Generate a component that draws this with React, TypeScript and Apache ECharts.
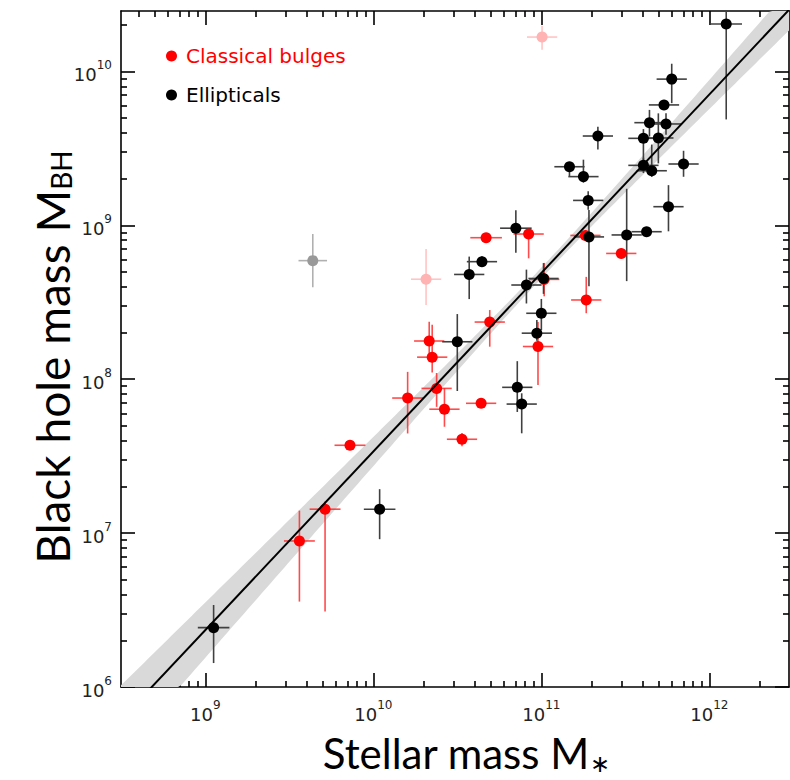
import React, { useEffect, useRef } from "react";
import * as echarts from "echarts";

// ---- axis ranges (log10 units) ----
const X_MIN = 8.498;
const X_MAX = 12.474;
const Y_MIN = 6;
const Y_MAX = 10.392;
const X_LABEL_EXPONENTS = [9, 10, 11, 12];
const Y_LABEL_EXPONENTS = [6, 7, 8, 9, 10];

// ---- fit (Kormendy & Ho 2013) ----
const FIT_NORM = 8.69; // log M_BH at M* = 1e11
const FIT_SLOPE = 1.16;
const FIT_PIVOT = 11;
const BAND_CORE = 0.035; // dex
const BAND_SLOPE_ERR = 0.088; // dex per dex from pivot

// ---- Ellipticals (M*, M_BH in solar masses; errors in dex) ----
const ellMass = [1.26e12, 5.97e11, 5.37e11, 4.4e11, 5.52e11, 2.17e11, 4.05e11, 4.97e11, 1.47e11, 4.05e11, 7.02e11, 1.78e11, 4.54e11, 1.9e11, 5.71e11, 3.22e11, 4.23e11, 1.92e11, 7.05e10, 4.43e10, 3.72e10, 8.15e10, 1.03e11, 1.0e11, 9.4e10, 3.16e10, 7.19e10, 7.64e10, 1.09e10, 1.12e9];
const ellBH = [2.03e10, 8.9e9, 6.05e9, 4.64e9, 4.55e9, 3.8e9, 3.67e9, 3.69e9, 2.4e9, 2.45e9, 2.5e9, 2.07e9, 2.26e9, 1.45e9, 1.32e9, 8.65e8, 9.08e8, 8.4e8, 9.57e8, 5.8e8, 4.79e8, 4.09e8, 4.51e8, 2.68e8, 1.99e8, 1.75e8, 8.85e7, 6.89e7, 1.43e7, 2.43e6];
const ellMassErr = [0.094, 0.09, 0.09, 0.09, 0.09, 0.09, 0.09, 0.09, 0.09, 0.09, 0.09, 0.09, 0.09, 0.09, 0.09, 0.09, 0.09, 0.09, 0.094, 0.09, 0.09, 0.09, 0.09, 0.09, 0.09, 0.09, 0.09, 0.09, 0.094, 0.094];
const ellBHErrLo = [0.62, 0.156, 0.03, 0.09, 0.07, 0.087, 0.16, 0.165, 0.06, 0.05, 0.083, 0.04, 0.04, 0.06, 0.16, 0.3, 0.03, 0.32, 0.16, 0.035, 0.16, 0.12, 0.1, 0.11, 0.05, 0.32, 0.16, 0.19, 0.195, 0.23];
const ellBHErrHi = [0.09, 0.1, 0.03, 0.083, 0.07, 0.06, 0.06, 0.16, 0.03, 0.05, 0.086, 0.11, 0.17, 0.06, 0.14, 0.3, 0.03, 0.175, 0.117, 0.035, 0.116, 0.1, 0.1, 0.093, 0.086, 0.18, 0.17, 0.07, 0.13, 0.147];

// ---- Classical bulges ----
const bulMass = [4.69e10, 8.4e10, 1.83e11, 2.99e11, 1.04e11, 1.85e11, 4.93e10, 9.55e10, 2.15e10, 2.24e10, 2.38e10, 2.65e10, 1.6e10, 4.38e10, 3.37e10, 7.26e9, 5.16e9, 3.63e9];
const bulBH = [8.3e8, 8.77e8, 8.59e8, 6.56e8, 4.45e8, 3.27e8, 2.35e8, 1.63e8, 1.77e8, 1.39e8, 8.71e7, 6.38e7, 7.54e7, 6.97e7, 4.07e7, 3.72e7, 1.43e7, 8.89e6];
const bulMassErr = [0.094, 0.09, 0.09, 0.09, 0.09, 0.09, 0.09, 0.09, 0.09, 0.09, 0.09, 0.09, 0.092, 0.09, 0.09, 0.092, 0.092, 0.092];
const bulBHErrLo = [0.03, 0.158, 0.03, 0.03, 0.11, 0.086, 0.16, 0.25, 0.08, 0.1, 0.12, 0.114, 0.23, 0.03, 0.045, 0.02, 0.665, 0.394];
const bulBHErrHi = [0.03, 0.03, 0.03, 0.03, 0.107, 0.15, 0.078, 0.16, 0.125, 0.21, 0.1, 0.136, 0.17, 0.03, 0.04, 0.02, 0.05, 0.197];

// ---- Excluded (faded) objects ----
const pinkMass = [1.01e11, 2.06e10];
const pinkBH = [1.67e10, 4.46e8];
const pinkMassErr = [0.09, 0.09];
const pinkBHErrLo = [0.083, 0.167];
const pinkBHErrHi = [0.073, 0.197];

const grayMass = [4.36e9];
const grayBH = [5.89e8];
const grayMassErr = [0.085];
const grayBHErrLo = [0.173];
const grayBHErrHi = [0.173];

const RED = "#ff0000";
const RED_BAR = "rgba(255,30,30,0.8)";
const BLACK = "#000000";
const BLACK_BAR = "#404040";
const PINK = "#ffb3b3";
const PINK_BAR = "#ffc4c4";
const GRAY = "#999999";
const GRAY_BAR = "#b0b0b0";

const TICK_FONT = "DejaVu Sans";
const TITLE_FONT = "Lato";

function build(mass: number[], bh: number[], xe: number[], ylo: number[], yhi: number[]) {
  return mass.map((m, i) => [Math.log10(m), Math.log10(bh[i]), xe[i], ylo[i], yhi[i]]);
}

function minorTicks(lo: number, hi: number) {
  const out: number[] = [];
  for (let n = Math.floor(lo); n <= Math.ceil(hi); n++) {
    for (let k = 2; k <= 9; k++) {
      const v = n + Math.log10(k);
      if (v > lo && v < hi) out.push(v);
    }
  }
  return out;
}

function errorBarSeries(name: string, data: number[][], color: string) {
  return {
    type: "custom",
    name,
    xAxisIndex: 0,
    yAxisIndex: 0,
    clip: true,
    silent: true,
    encode: { x: 0, y: 1 },
    data,
    renderItem: (_p: any, api: any) => {
      const x = api.value(0);
      const y = api.value(1);
      const xe = api.value(2);
      const lo = api.value(3);
      const hi = api.value(4);
      const l = api.coord([x - xe, y]);
      const r = api.coord([x + xe, y]);
      const t = api.coord([x, y + hi]);
      const b = api.coord([x, y - lo]);
      return {
        type: "group",
        children: [
          { type: "line", shape: { x1: l[0], y1: l[1], x2: r[0], y2: r[1] }, style: { stroke: color, lineWidth: 1.6 } },
          { type: "line", shape: { x1: t[0], y1: t[1], x2: b[0], y2: b[1] }, style: { stroke: color, lineWidth: 1.6 } },
        ],
      };
    },
  };
}

function dotSeries(name: string, data: number[][], color: string) {
  return {
    type: "scatter",
    name,
    xAxisIndex: 0,
    yAxisIndex: 0,
    symbol: "circle",
    symbolSize: 11,
    itemStyle: { color, opacity: 1 },
    silent: true,
    data: data.map((d) => [d[0], d[1]]),
  };
}

const fmt = (v: number) => `{b|10}{s|${Math.round(v)}}`;
const labelRich = {
  b: { fontFamily: TICK_FONT, fontSize: 18, color: "#222", verticalAlign: "bottom", lineHeight: 24 },
  s: { fontFamily: TICK_FONT, fontSize: 12, color: "#222", verticalAlign: "top", lineHeight: 15 },
};

export default function App() {
  const ref = useRef<HTMLDivElement>(null);
  useEffect(() => {
    document.body.style.margin = "0";
    if (!ref.current) return;
    const chart = echarts.init(ref.current, undefined, { renderer: "svg" });

    const ell = build(ellMass, ellBH, ellMassErr, ellBHErrLo, ellBHErrHi);
    const bul = build(bulMass, bulBH, bulMassErr, bulBHErrLo, bulBHErrHi);
    const pink = build(pinkMass, pinkBH, pinkMassErr, pinkBHErrLo, pinkBHErrHi);
    const gray = build(grayMass, grayBH, grayMassErr, grayBHErrLo, grayBHErrHi);

    const fit = (x: number) => FIT_NORM + FIT_SLOPE * (x - FIT_PIVOT);
    const halfWidth = (x: number) => Math.sqrt(BAND_CORE * BAND_CORE + Math.pow(BAND_SLOPE_ERR * (x - FIT_PIVOT), 2));

    const xMinor = minorTicks(X_MIN, X_MAX);
    const yMinor = minorTicks(Y_MIN, Y_MAX);

    const axisLineStyle = { color: "#000", width: 1.6 };
    const baseX = { type: "value", min: X_MIN, max: X_MAX, splitLine: { show: false } };
    const baseY = { type: "value", min: Y_MIN, max: Y_MAX, splitLine: { show: false } };

    const option: any = {
      animation: false,
      backgroundColor: "#ffffff",
      grid: { left: 121, top: 11, width: 668, height: 676, containLabel: false },
      xAxis: [
        {
          ...baseX,
          position: "bottom",
          axisLine: { show: true, onZero: false, lineStyle: axisLineStyle },
          axisTick: { show: true, inside: true, length: 14, customValues: X_LABEL_EXPONENTS, lineStyle: axisLineStyle },
          axisLabel: { show: true, customValues: X_LABEL_EXPONENTS, formatter: fmt, rich: labelRich, margin: 12 },
        },
        {
          ...baseX,
          position: "bottom",
          axisLine: { show: false, onZero: false },
          axisTick: { show: true, inside: true, length: 6, customValues: xMinor, lineStyle: axisLineStyle },
          axisLabel: { show: false },
        },
        {
          ...baseX,
          position: "top",
          axisLine: { show: true, onZero: false, lineStyle: axisLineStyle },
          axisTick: { show: true, inside: true, length: 14, customValues: X_LABEL_EXPONENTS, lineStyle: axisLineStyle },
          axisLabel: { show: false },
        },
        {
          ...baseX,
          position: "top",
          axisLine: { show: false, onZero: false },
          axisTick: { show: true, inside: true, length: 6, customValues: xMinor, lineStyle: axisLineStyle },
          axisLabel: { show: false },
        },
      ],
      yAxis: [
        {
          ...baseY,
          position: "left",
          axisLine: { show: true, onZero: false, lineStyle: axisLineStyle },
          axisTick: { show: true, inside: true, length: 14, customValues: Y_LABEL_EXPONENTS, lineStyle: axisLineStyle },
          axisLabel: { show: true, customValues: Y_LABEL_EXPONENTS, formatter: fmt, rich: labelRich, margin: 9 },
        },
        {
          ...baseY,
          position: "left",
          axisLine: { show: false, onZero: false },
          axisTick: { show: true, inside: true, length: 6, customValues: yMinor, lineStyle: axisLineStyle },
          axisLabel: { show: false },
        },
        {
          ...baseY,
          position: "right",
          axisLine: { show: true, onZero: false, lineStyle: axisLineStyle },
          axisTick: { show: true, inside: true, length: 14, customValues: Y_LABEL_EXPONENTS, lineStyle: axisLineStyle },
          axisLabel: { show: false },
        },
        {
          ...baseY,
          position: "right",
          axisLine: { show: false, onZero: false },
          axisTick: { show: true, inside: true, length: 6, customValues: yMinor, lineStyle: axisLineStyle },
          axisLabel: { show: false },
        },
      ],
      legend: {
        orient: "vertical",
        left: 161,
        top: 41,
        itemGap: 19,
        itemWidth: 11,
        itemHeight: 11,
        icon: "circle",
        selectedMode: false,
        data: [
          { name: "Classical bulges", textStyle: { color: RED } },
          { name: "Ellipticals", textStyle: { color: BLACK } },
        ],
        textStyle: { fontFamily: TICK_FONT, fontSize: 20, padding: [0, 0, 0, 4] },
      },
      graphic: [
        {
          type: "text",
          x: 466,
          y: 754,
          style: {
            text: "{m|Stellar mass M}{s|∗}",
            textAlign: "center",
            textVerticalAlign: "middle",
            rich: {
              m: { fontFamily: TITLE_FONT, fontSize: 42, fill: "#000", verticalAlign: "bottom", lineHeight: 40 },
              s: { fontFamily: TITLE_FONT, fontSize: 24, fill: "#000", verticalAlign: "bottom", lineHeight: 30 },
            },
          },
        },
        {
          type: "text",
          x: 50,
          y: 357,
          rotation: Math.PI / 2,
          style: {
            text: "{m|Black hole mass M}{s|BH}",
            textAlign: "center",
            textVerticalAlign: "middle",
            rich: {
              m: { fontFamily: TITLE_FONT, fontSize: 46, fill: "#000", verticalAlign: "bottom", lineHeight: 50 },
              s: { fontFamily: TITLE_FONT, fontSize: 28, fill: "#000", verticalAlign: "bottom", lineHeight: 44 },
            },
          },
        },
      ],
      series: [
        {
          type: "custom",
          name: "scatter band",
          xAxisIndex: 0,
          yAxisIndex: 0,
          silent: true,
          data: [[X_MIN, Y_MIN]],
          encode: { x: 0, y: 1 },
          renderItem: (_p: any, api: any) => {
            const upper: number[][] = [];
            const lower: number[][] = [];
            const steps = 200;
            for (let i = 0; i <= steps; i++) {
              const x = X_MIN + ((X_MAX - X_MIN) * i) / steps;
              const f = fit(x);
              const w = halfWidth(x);
              const hi = Math.min(Math.max(f + w, Y_MIN), Y_MAX);
              const lo = Math.min(Math.max(f - w, Y_MIN), Y_MAX);
              upper.push(api.coord([x, hi]));
              lower.push(api.coord([x, lo]));
            }
            return {
              type: "polygon",
              shape: { points: upper.concat(lower.reverse()) },
              style: { fill: "#d9d9d9", stroke: "none" },
            };
          },
        },
        {
          type: "line",
          name: "fit",
          xAxisIndex: 0,
          yAxisIndex: 0,
          showSymbol: false,
          symbol: "none",
          clip: true,
          silent: true,
          lineStyle: { color: "#000", width: 2 },
          data: [
            [X_MIN, fit(X_MIN)],
            [X_MAX, fit(X_MAX)],
          ],
        },
        errorBarSeries("gray bars", gray, GRAY_BAR),
        dotSeries("gray", gray, GRAY),
        errorBarSeries("pink bars", pink, PINK_BAR),
        dotSeries("pink", pink, PINK),
        errorBarSeries("bulge bars", bul, RED_BAR),
        dotSeries("Classical bulges", bul, RED),
        errorBarSeries("elliptical bars", ell, BLACK_BAR),
        dotSeries("Ellipticals", ell, BLACK),
      ],
    };

    chart.setOption(option);
    return () => chart.dispose();
  }, []);

  return <div ref={ref} style={{ width: 790, height: 780 }} />;
}
